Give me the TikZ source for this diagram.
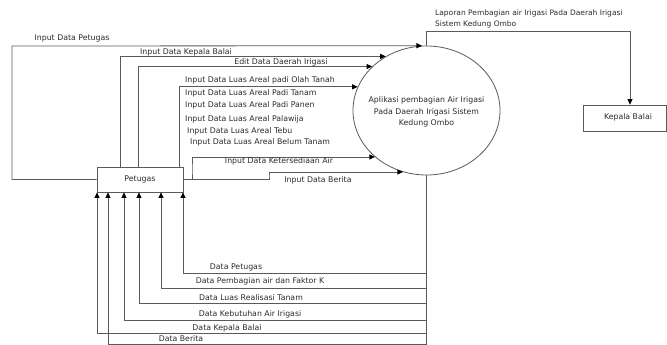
\documentclass[tikz,border=0pt]{standalone}
\usepackage{fontspec}
\setmainfont{DejaVu Sans}
\usetikzlibrary{arrows.meta,shapes.geometric}
\definecolor{ln}{HTML}{5A5A5A}
\definecolor{tx}{HTML}{2A2A2A}
\tikzset{
  arr/.style={draw=ln, line width=0.8pt, -{Triangle[length=5.5pt,width=5pt,fill=black,color=black]}},
  lbl/.style={text=tx, font=\fontsize{7.8}{9}\selectfont, inner sep=0pt},
  boxs/.style={draw=ln, line width=0.8pt, rectangle, inner sep=0pt},
}
\begin{document}
\begin{tikzpicture}[x=1pt,y=-1pt]
\useasboundingbox (0,0) rectangle (667,345);
% nodes
\node[boxs, minimum width=86pt, minimum height=25pt] (pet) at (140,179.5) {};
\node[lbl] (petl) at (140,179.5) {Petugas};
\node[ellipse, draw=ln, line width=0.8pt, minimum width=147pt, minimum height=129pt, inner sep=0pt] (circ) at (426.5,110.5) {};
\node[lbl, align=center, font=\fontsize{7.8}{11.5}\selectfont] (circl) at (426.5,112) {Aplikasi pembagian Air Irigasi\\Pada Daerah Irigasi Sistem\\Kedung Ombo};
\node[boxs, minimum width=83pt, minimum height=26pt] (kb) at (624.5,118) {};
\node[lbl] (kbl) at (628,117.5) {Kepala Balai};

% helper coordinates
\coordinate (c1) at (12,46);
\coordinate (c5) at (192,170);
\coordinate (c6) at (269,176);
\coordinate (lp) at (630,31);
\coordinate (o1) at (183,273);
\coordinate (o2) at (161,288);
\coordinate (o3) at (139,303.5);
\coordinate (o4) at (124,320);
\coordinate (o5) at (97,333);
\coordinate (o6) at (108,344);

% input flows
\draw[arr] (pet.west) -| (c1) -- (circ.94);
\draw[arr] (pet.north west) ++(24,0) |- (circ.127.5);
\draw[arr] (pet.north west) ++(42,0) |- (circ.141.3);
\draw[arr] (pet.north west) ++(83,0) |- (circ.161.1);
\draw[arr] (pet.east) -| (c5) |- (circ.222.4);
\draw[arr] (pet.east) -| (c6) |- (circ.249);

% report
\draw[arr] (circ.north) |- (lp) -- (lp |- kb.north);

% output flows
\draw[arr] (circ.south) |- (o1) -- (o1 |- pet.south);
\draw[arr] (circ.south) |- (o2) -- (o2 |- pet.south);
\draw[arr] (circ.south) |- (o3) -- (o3 |- pet.south);
\draw[arr] (circ.south) |- (o4) -- (o4 |- pet.south);
\draw[arr] (circ.south) |- (o5) -- (o5 |- pet.south);
\draw[arr] (circ.south) |- (o6) -- (o6 |- pet.south);

% labels
\node[lbl] (t1) at (72,38) {Input Data Petugas};
\node[lbl] (t2) at (186,52) {Input Data Kepala Balai};
\node[lbl] (t3) at (281,62) {Edit Data Daerah Irigasi};
\node[lbl] (t4) at (260,80.5) {Input Data Luas Areal padi Olah Tanah};
\node[lbl, anchor=west] (t4a) at (185,93) {Input Data Luas Areal Padi Tanam};
\node[lbl, anchor=west] (t4b) at (185,105) {Input Data Luas Areal Padi Panen};
\node[lbl, anchor=west] (t4c) at (185,119) {Input Data Luas Areal Palawija};
\node[lbl, anchor=west] (t4d) at (187,131) {Input Data Luas Areal Tebu};
\node[lbl, anchor=west] (t4e) at (190,142) {Input Data Luas Areal Belum Tanam};
\node[lbl] (t5) at (279,161.5) {Input Data Ketersediaan Air};
\node[lbl] (t6) at (318,180.5) {Input Data Berita};
\node[lbl, anchor=north west, align=left, font=\fontsize{7.5}{11}\selectfont] (tl) at (435,9.5) {Laporan Pembagian air Irigasi Pada Daerah Irigasi\\Sistem Kedung Ombo};
\node[lbl] (u1) at (236,267) {Data Petugas};
\node[lbl] (u2) at (260,281.5) {Data Pembagian air dan Faktor K};
\node[lbl] (u3) at (251,298) {Data Luas Realisasi Tanam};
\node[lbl] (u4) at (250,314) {Data Kebutuhan Air Irigasi};
\node[lbl] (u5) at (227,328) {Data Kepala Balai};
\node[lbl] (u6) at (181,339) {Data Berita};
\end{tikzpicture}
\end{document}
